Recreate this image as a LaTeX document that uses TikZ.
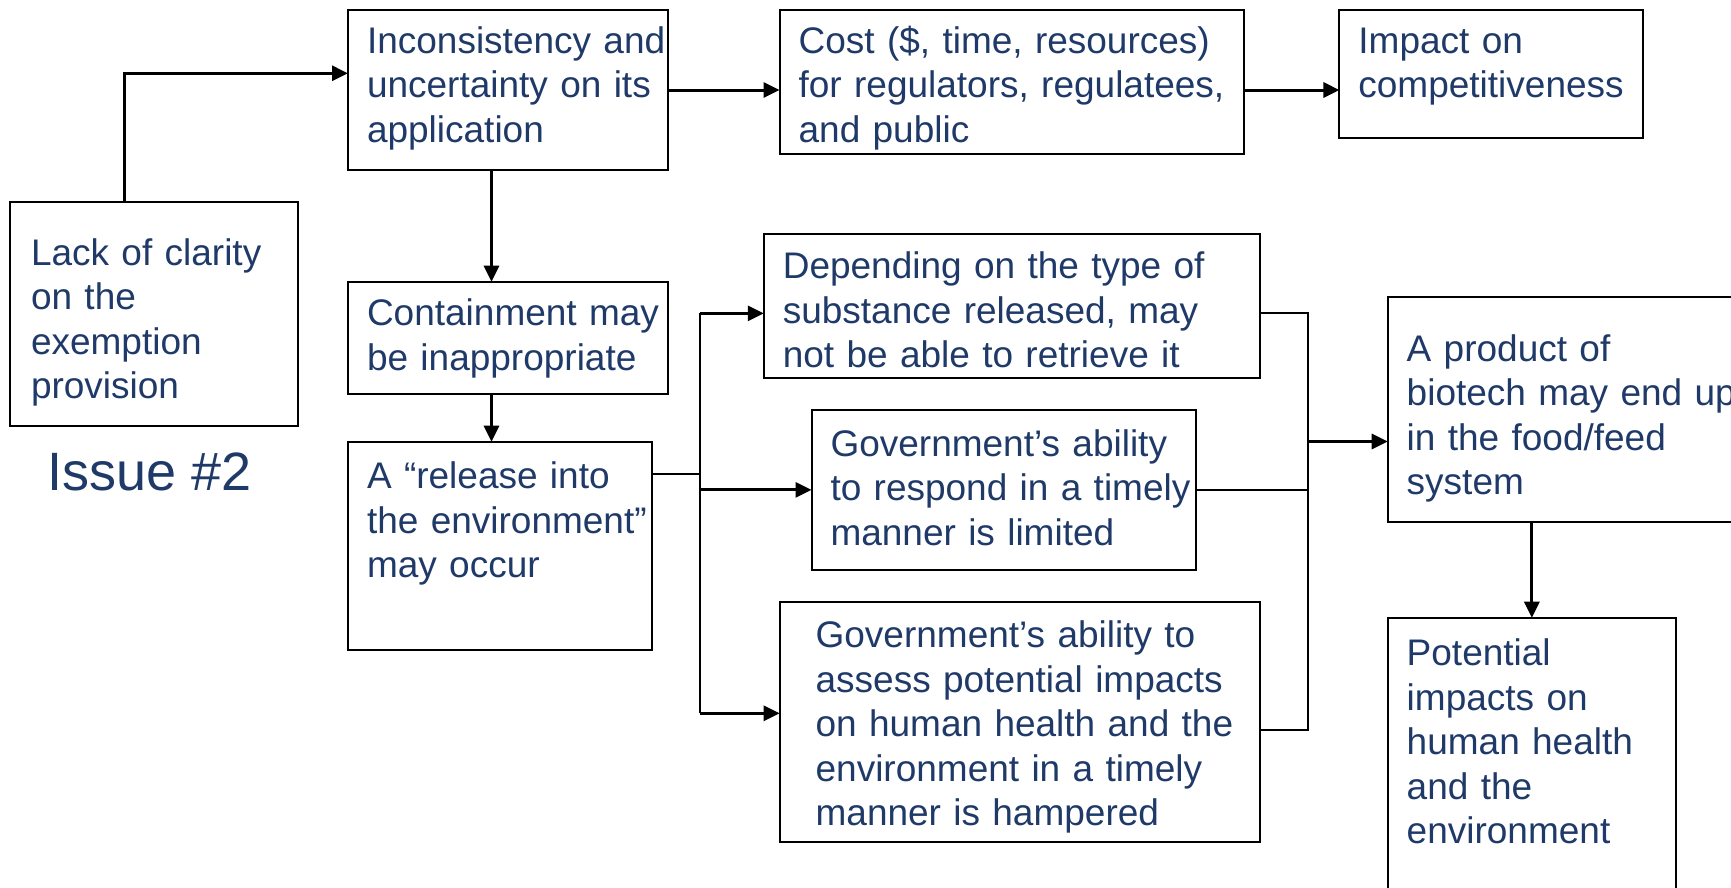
\documentclass[tikz,border=0pt]{standalone}
\usepackage{fontspec}
\setmainfont{Liberation Sans}
\usepackage{tikz}
\usetikzlibrary{positioning,arrows.meta}
\definecolor{navy}{RGB}{31,58,104}

\begin{document}
\begin{tikzpicture}[x=1pt, y=1pt, outer sep=0pt,
    box/.style={draw, line width=2pt, text=navy, align=left, inner xsep=19pt,
        inner ysep=0pt, font=\fontsize{37}{44.5}\selectfont},
    link/.style={line width=2pt},
    arrowlink/.style={line width=3pt, -{Triangle[length=16pt,width=15pt]}}]

\path[use as bounding box, clip] (0,0) rectangle (1731,-887);

\node[box, anchor=north west, inner xsep=21pt, text width=246pt, text height=63pt, text depth=161pt] (LC) at (10,-202)
    {Lack of clarity\\on the\\exemption\\provision};
\node[box, above right=192pt and 50pt of LC.north east, anchor=north west,
    text width=282pt, text height=43pt, text depth=117pt] (IU)
    {\mbox{Inconsistency and}\\\mbox{uncertainty on its}\\application};
\node[box, right=111.6pt of IU.north east, anchor=north west,
    text width=426.4pt, text height=43pt, text depth=101pt] (CO)
    {Cost (\$, time, resources)\\for regulators, regulatees,\\and public};
\node[box, right=95.4pt of CO.north east, anchor=north west,
    text width=266pt, text height=43pt, text depth=84.7pt] (IC)
    {Impact on\\competitiveness};
\node[box, below=111.7pt of IU.south west, anchor=north west,
    text width=282pt, text height=44pt, text depth=68.3pt] (CM)
    {\mbox{Containment may}\\be inappropriate};
\node[box, below=47.7pt of CM.south west, anchor=north west,
    text width=266pt, text height=47pt, text depth=161pt] (RE)
    {A “release into\\\mbox{the environment”}\\may occur};
\node[box, above right=48pt and 95.8pt of CM.north east, anchor=north west,
    text width=458.2pt, text height=45pt, text depth=99.3pt] (DS)
    {Depending on the type of\\substance released, may\\not be able to retrieve it};
\node[box, below right=32pt and 47.7pt of DS.south west, anchor=north west,
    text width=346pt, text height=46pt, text depth=113.7pt] (GR)
    {Government’s ability\\\mbox{to respond in a timely}\\manner is limited};
\node[box, below left=32pt and 31.9pt of GR.south west, anchor=north west, inner xsep=36pt,
    text width=408.2pt, text height=46pt, text depth=194pt] (GA)
    {Government’s ability to\\\mbox{assess potential impacts}\\\mbox{on human health and the}\\\mbox{environment in a timely}\\manner is hampered};
\node[box, below right=63.7pt and 127.7pt of DS.north east, anchor=north west,
    text width=362pt, text height=64pt, text depth=160.6pt] (PB)
    {A product of\\biotech may end up\\in the food/feed\\system};
\node[box, below=95.7pt of PB.south west, anchor=north west,
    text width=250.3pt, text height=48pt, text depth=252pt] (PI)
    {Potential\\impacts on\\human health\\and the\\environment};
\node[text=navy, font=\fontsize{54}{60}\selectfont, inner sep=0pt, anchor=base west] (IS)
    at ([shift={(37.7,-64)}]LC.south west) {Issue \#2};

\coordinate (DSin) at ([yshift=-7.5pt]DS.west);
\coordinate (DSout) at ([yshift=-7.5pt]DS.east);
\coordinate (GAin) at ([yshift=8.4pt]GA.west);
\coordinate (GAout) at ([yshift=-8.3pt]GA.east);
\coordinate (PBin) at ([yshift=-31.8pt]PB.west);
\coordinate (LB) at ([xshift=48pt,yshift=-32pt]RE.north east);
\coordinate (RB) at ([xshift=48pt]DS.east);

\draw[arrowlink] ([xshift=-30pt]LC.north) |- ([yshift=16.7pt]IU.west);
\draw[arrowlink] (IU.east) -- (IU.east -| CO.west);
\draw[arrowlink] (CO.east |- IU.east) -- (IU.east -| IC.west);
\draw[arrowlink] ([xshift=-16.5pt]IU.south) -- ([xshift=-16.5pt]IU.south |- CM.north);
\draw[arrowlink] ([xshift=-16.5pt]CM.south) -- ([xshift=-16.5pt]CM.south |- RE.north);

\draw[link] ([yshift=-32pt]RE.north east) -- (LB);
\draw[link] (LB |- DSin) -- (LB |- GAin);
\draw[arrowlink] (LB |- DSin) -- (DSin);
\draw[arrowlink] (LB |- GR.west) -- (GR.west);
\draw[arrowlink] (LB |- GAin) -- (GAin);

\draw[link] (DSout) -- (RB |- DSout) -- (RB |- GAout) -- (GAout);
\draw[link] (GR.east) -- (RB |- GR.east);
\draw[arrowlink] (RB |- PBin) -- (PBin);
\draw[arrowlink] (PI.north |- PB.south) -- (PI.north);
\end{tikzpicture}
\end{document}
